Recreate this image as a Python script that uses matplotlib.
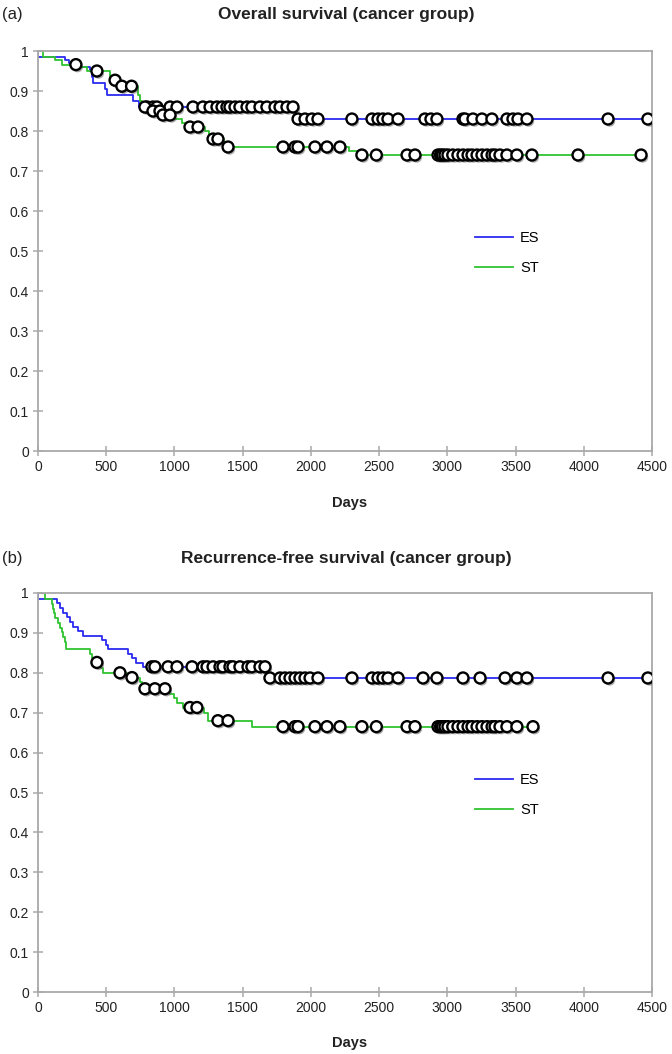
import numpy as np
import matplotlib
matplotlib.use('Agg')
import matplotlib.pyplot as plt
import matplotlib.patheffects as pe

plt.rcParams['font.family'] = ['Liberation Sans', 'DejaVu Sans']

# ---- (a) overall survival ----
a_es_t = [0, 198, 230, 300, 381, 396, 405, 491, 506, 697, 740, 1890]
a_es_s = [0.985, 0.978, 0.97, 0.96, 0.95, 0.935, 0.92, 0.905, 0.89, 0.875, 0.86, 0.83]
a_es_end = 4470
a_es_cens = [800, 843, 872, 968, 1019, 1136, 1209, 1261, 1312, 1349, 1385, 1407, 1444,
             1480, 1532, 1568, 1627, 1678, 1737, 1774, 1825, 1869,
             1906, 1957, 2008, 2052, 2301, 2448, 2492, 2528, 2565, 2639,
             2836, 2880, 2924, 3115, 3130, 3188, 3254, 3327, 3437, 3481, 3518, 3584,
             4178, 4470]

a_st_t = [40, 125, 176, 300, 359, 530, 600, 735, 750, 760, 770, 830, 900, 990, 1055,
          1100, 1224, 1250, 1270, 1360, 1385, 2280, 2340]
a_st_s = [0.985, 0.977, 0.966, 0.96, 0.95, 0.927, 0.912, 0.89, 0.875, 0.865, 0.86, 0.85,
          0.84, 0.83, 0.82, 0.81, 0.80, 0.79, 0.78, 0.77, 0.76, 0.75, 0.74]
a_st_end = 4420
a_st_cens = [278, 432, 565, 615, 686, 784, 843, 894, 916, 968, 1114, 1173, 1283, 1319,
             1393, 1796, 1884, 1906, 2030, 2118, 2213, 2374, 2480, 2705, 2763,
             2932, 2950, 2965, 2983, 3005, 3040, 3078, 3115, 3152, 3181, 3218, 3254,
             3291, 3328, 3350, 3386, 3437, 3510, 3620, 3958, 4420]

# ---- (b) recurrence-free survival ----
b_es_t = [0, 140, 160, 185, 210, 235, 260, 290, 330, 470, 500, 515, 660, 690, 720,
          770, 1680]
b_es_s = [0.985, 0.974, 0.962, 0.951, 0.939, 0.928, 0.916, 0.905, 0.893, 0.882, 0.87,
          0.859, 0.848, 0.836, 0.825, 0.815, 0.787]
b_es_end = 4470
b_es_cens = [835, 857, 953, 1019, 1129, 1210, 1239, 1283, 1334, 1356, 1407, 1429, 1480,
             1539, 1568, 1627, 1664, 1700, 1774, 1810, 1847, 1884, 1920, 1957, 1994,
             2052, 2301, 2448, 2492, 2528, 2565, 2639, 2822, 2924, 3115, 3240, 3423,
             3510, 3584, 4178, 4470]

b_st_t = [50, 103, 110, 117, 125, 150, 165, 175, 185, 195, 205, 380, 395, 420, 465,
          480, 650, 745, 760, 970, 995, 1020, 1060, 1215, 1245, 1570]
b_st_s = [0.985, 0.973, 0.961, 0.949, 0.938, 0.925, 0.913, 0.901, 0.89, 0.878, 0.859,
          0.847, 0.836, 0.826, 0.812, 0.80, 0.788, 0.776, 0.76, 0.748, 0.736, 0.725,
          0.713, 0.70, 0.68, 0.665]
b_st_end = 3628
b_st_cens = [432, 601, 689, 784, 857, 931, 1114, 1165, 1319, 1393, 1796, 1884, 1906,
             2030, 2118, 2213, 2374, 2480, 2705, 2763, 2932, 2950, 2965, 2983, 3005,
             3040, 3078, 3115, 3152, 3181, 3218, 3254, 3291, 3328, 3350, 3386, 3437,
             3510, 3628]

x_ticks = [0, 500, 1000, 1500, 2000, 2500, 3000, 3500, 4000, 4500]
y_ticks = [0, 0.1, 0.2, 0.3, 0.4, 0.5, 0.6, 0.7, 0.8, 0.9, 1]
y_labels = ['0', '0.1', '0.2', '0.3', '0.4', '0.5', '0.6', '0.7', '0.8', '0.9', '1']

BLUE = '#2b2bf0'
GREEN = '#2fc42f'
GRID = '#a9a9a9'


def km_curve(ax, t, s, end, cens, color, label):
    tt = np.r_[0, t, end]
    ss = np.r_[1.0, s, s[-1]]
    ax.step(tt, ss, where='post', color=color, lw=1.3, label=label, zorder=2)
    # censor marks sit on the curve
    idx = np.searchsorted(np.asarray(t), cens, side='right') - 1
    cy = np.where(idx < 0, 1.0, np.asarray(s)[np.clip(idx, 0, None)])
    ax.plot(cens, cy, ls='none', marker='o', ms=7.9, mfc='white', mec='black',
            mew=1.7, zorder=3,
            path_effects=[pe.SimplePatchShadow(offset=(1.2, -1.6), shadow_rgbFace='#555555',
                                               alpha=0.5), pe.Normal()])


def style_axes(ax, title, tag, title_y, tag_y, days_y, leg_y):
    ax.set_xlim(0, 4500)
    ax.set_ylim(0, 1)
    ax.set_xticks(x_ticks)
    ax.set_yticks(y_ticks)
    ax.set_yticklabels(y_labels)
    for sp in ax.spines.values():
        sp.set_color(GRID)
        sp.set_linewidth(1.3)
    ax.tick_params(direction='inout', length=7, width=1.1, color=GRID,
                   labelsize=10, labelcolor='#222222', pad=3)
    fig.text(0.515, title_y, title, ha='center', va='center', fontsize=12.5,
             fontweight='bold', color='#222222')
    fig.text(0.003, tag_y, tag, ha='left', va='center', fontsize=12, color='#222222')
    fig.text(0.52, days_y, 'Days', ha='center', va='center', fontsize=10.5,
             fontweight='bold', color='#222222')
    ax.legend(loc='upper left', bbox_to_anchor=(0.69, leg_y), frameon=False,
              fontsize=10.5, handlelength=2.6, handletextpad=0.5, labelspacing=1.12)


fig = plt.figure(figsize=(6.72, 10.54), dpi=100)
ax1 = fig.add_axes([0.0565, 0.5721, 0.9137, 0.3795])
ax2 = fig.add_axes([0.0565, 0.0588, 0.9137, 0.3786])

km_curve(ax1, a_es_t, a_es_s, a_es_end, a_es_cens, BLUE, 'ES')
km_curve(ax1, a_st_t, a_st_s, a_st_end, a_st_cens, GREEN, 'ST')
style_axes(ax1, 'Overall survival (cancer group)', '(a)', 0.986, 0.986, 0.523, 0.5825)

km_curve(ax2, b_es_t, b_es_s, b_es_end, b_es_cens, BLUE, 'ES')
km_curve(ax2, b_st_t, b_st_s, b_st_end, b_st_cens, GREEN, 'ST')
style_axes(ax2, 'Recurrence-free survival (cancer group)', '(b)', 0.47, 0.47, 0.01, 0.5825)

fig.savefig('out.png', dpi=100)
